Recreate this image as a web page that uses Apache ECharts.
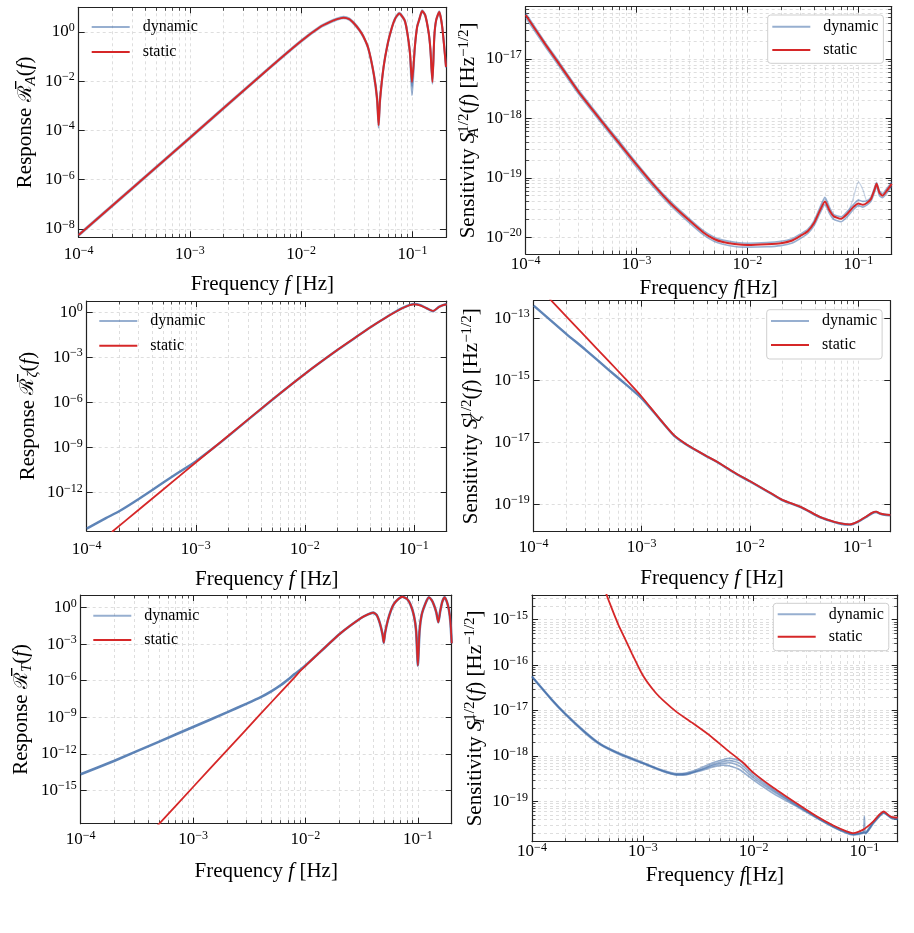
<!DOCTYPE html>
<html>
<head>
<meta charset="utf-8">
<script src="https://cdn.jsdelivr.net/npm/echarts@6/dist/echarts.min.js"></script>
<style>
  html, body { margin: 0; padding: 0; background: #fff; }
  #chart { width: 914px; height: 933px; }
</style>
</head>
<body>
<div id="chart"></div>
<script>
// ---- data (frequency in Hz) ----
// panel 1: response A
const p1Freq = [1e-4, 1e-3, 5e-3, 1e-2, 1.5e-2, 1.8e-2, 2.1e-2, 2.4e-2, 2.7e-2, 3e-2, 3.3e-2, 3.6e-2, 4e-2, 4.5e-2, 4.8e-2, 4.96e-2, 5.1e-2, 5.5e-2, 6e-2, 6.5e-2, 7e-2, 7.6e-2, 8.5e-2, 9e-2, 9.5e-2, 9.9e-2, 1.05e-1, 1.1e-1, 1.15e-1, 1.22e-1, 1.3e-1, 1.4e-1, 1.45e-1, 1.51e-1, 1.57e-1, 1.63e-1, 1.74e-1, 1.85e-1, 2e-1]
const p1Static = [5.6e-9, 5.0e-5, 3.0e-2, 0.43, 1.66, 2.51, 3.3, 3.8, 3.3, 2.14, 1.26, 0.68, 0.22, 1.8e-2, 2.0e-3, 1.6e-4, 1.6e-3, 3.8e-2, 0.35, 1.41, 3.55, 5.6, 2.95, 0.87, 0.13, 9.3e-3, 0.25, 1.58, 3.16, 7.1, 4.8, 0.87, 0.18, 9.3e-3, 0.63, 2.95, 6.5, 1.58, 3.8e-2]
const p1DynA = [5.2e-9, 4.7e-5, 2.8e-2, 0.40, 1.55, 2.34, 3.1, 3.55, 3.1, 2.0, 1.17, 0.63, 0.2, 1.58e-2, 1.58e-3, 1.26e-4, 1.26e-3, 3.5e-2, 0.32, 1.32, 3.3, 5.25, 2.75, 0.79, 0.11, 2.7e-3, 0.22, 1.48, 2.95, 6.6, 4.5, 0.79, 0.16, 7.9e-3, 0.56, 2.75, 6.0, 1.48, 3.5e-2]
const p1DynB = [6.0e-9, 5.4e-5, 3.2e-2, 0.46, 1.78, 2.7, 3.55, 4.1, 3.55, 2.3, 1.35, 0.72, 0.23, 2.0e-2, 2.5e-3, 2.5e-4, 2.0e-3, 4.2e-2, 0.37, 1.51, 3.8, 6.0, 3.16, 0.93, 0.145, 6.3e-3, 0.27, 1.7, 3.4, 7.6, 5.1, 0.93, 0.2, 1.12e-2, 0.69, 3.16, 6.9, 1.7, 4.2e-2]

// panel 2: sensitivity A
const p2Freq = [1e-4, 1.5e-4, 2e-4, 3e-4, 5e-4, 7e-4, 1e-3, 1.5e-3, 2e-3, 3e-3, 4e-3, 5e-3, 6e-3, 8e-3, 1e-2, 1.5e-2, 2e-2, 2.5e-2, 3e-2, 3.5e-2, 4e-2, 4.5e-2, 5e-2, 5.5e-2, 6e-2, 7e-2, 8e-2, 9e-2, 1e-1, 1.1e-1, 1.2e-1, 1.3e-1, 1.4e-1, 1.46e-1, 1.55e-1, 1.65e-1, 1.8e-1, 2e-1]
const p2Static = [5.5e-17, 1.78e-17, 8.3e-18, 2.8e-18, 8.3e-19, 3.8e-19, 1.66e-19, 6.8e-20, 3.8e-20, 1.9e-20, 1.2e-20, 9.3e-21, 8.3e-21, 7.6e-21, 7.4e-21, 7.6e-21, 7.9e-21, 8.7e-21, 1.05e-20, 1.26e-20, 1.74e-20, 2.8e-20, 4.0e-20, 2.8e-20, 2.24e-20, 2.04e-20, 2.5e-20, 3.2e-20, 3.7e-20, 3.5e-20, 3.8e-20, 4.4e-20, 6.3e-20, 7.9e-20, 5.6e-20, 5.0e-20, 6.0e-20, 7.9e-20]
const p2DynA = [5.9e-17, 1.9e-17, 8.9e-18, 3.0e-18, 8.9e-19, 4.1e-19, 1.78e-19, 7.2e-20, 4.1e-20, 2.04e-20, 1.29e-20, 1.0e-20, 8.9e-21, 8.1e-21, 7.9e-21, 8.1e-21, 8.5e-21, 9.3e-21, 1.12e-20, 1.35e-20, 1.9e-20, 3.16e-20, 4.7e-20, 3.16e-20, 2.4e-20, 2.2e-20, 2.75e-20, 3.5e-20, 4.2e-20, 4.0e-20, 4.1e-20, 4.7e-20, 6.8e-20, 8.3e-20, 6.0e-20, 5.4e-20, 6.5e-20, 8.5e-20]
const p2DynB = [5.0e-17, 1.62e-17, 7.6e-18, 2.57e-18, 7.6e-19, 3.5e-19, 1.51e-19, 6.2e-20, 3.5e-20, 1.74e-20, 1.1e-20, 8.5e-21, 7.6e-21, 6.9e-21, 6.8e-21, 6.9e-21, 7.2e-21, 7.9e-21, 9.5e-21, 1.15e-20, 1.58e-20, 2.5e-20, 3.55e-20, 2.5e-20, 2.0e-20, 1.82e-20, 2.24e-20, 2.9e-20, 3.4e-20, 3.2e-20, 3.5e-20, 4.0e-20, 5.75e-20, 7.2e-20, 5.0e-20, 4.6e-20, 5.5e-20, 7.2e-20]
const p2DynC = [5.5e-17, 1.78e-17, 8.3e-18, 2.8e-18, 8.3e-19, 3.8e-19, 1.66e-19, 6.8e-20, 3.8e-20, 1.9e-20, 1.2e-20, 9.3e-21, 8.3e-21, 7.6e-21, 7.4e-21, 7.6e-21, 7.9e-21, 8.7e-21, 1.05e-20, 1.26e-20, 1.74e-20, 2.9e-20, 4.4e-20, 2.9e-20, 2.24e-20, 2.04e-20, 2.5e-20, 4.5e-20, 8.5e-20, 6.3e-20, 4.0e-20, 4.4e-20, 6.3e-20, 7.9e-20, 5.6e-20, 5.0e-20, 6.0e-20, 7.9e-20]

// panel 3: response zeta
const p3FreqS = [1.7e-4, 3e-4, 5e-4, 1e-3, 2e-3, 5e-3, 1e-2, 2e-2, 3e-2, 4e-2, 5e-2, 6.4e-2, 8e-2, 1e-1, 1.15e-1, 1.3e-1, 1.5e-1, 1.7e-1, 1.85e-1, 2e-1]
const p3Static = [2.4e-15, 7.2e-14, 1.55e-12, 1.0e-10, 6.3e-9, 1.48e-6, 7.9e-5, 3.16e-3, 2.4e-2, 0.1, 0.28, 0.83, 2.0, 3.3, 2.8, 1.86, 1.23, 2.24, 2.95, 3.4]
const p3FreqD = [1e-4, 1.5e-4, 2e-4, 3e-4, 5e-4, 7e-4, 1e-3, 1.5e-3, 2e-3, 5e-3, 1e-2, 2e-2, 3e-2, 4e-2, 5e-2, 6.4e-2, 8e-2, 1e-1, 1.15e-1, 1.3e-1, 1.5e-1, 1.7e-1, 1.85e-1, 2e-1]
const p3Dyn = [4.0e-15, 2.0e-14, 6.0e-14, 3.8e-13, 4.5e-12, 2.24e-11, 1.2e-10, 1.12e-9, 6.0e-9, 1.45e-6, 7.8e-5, 3.16e-3, 2.4e-2, 0.1, 0.28, 0.85, 2.04, 3.5, 2.95, 1.9, 1.17, 2.3, 3.0, 3.55]

// panel 4: sensitivity zeta
const p4FreqS = [1.4e-4, 2e-4, 3e-4, 5e-4, 7e-4, 1e-3, 1.5e-3, 2e-3, 2.5e-3, 3e-3, 4e-3, 5e-3, 7e-3, 1e-2, 1.5e-2, 2e-2, 3e-2, 4.4e-2, 5.5e-2, 6.8e-2, 8.4e-2, 1e-1, 1.2e-1, 1.35e-1, 1.48e-1, 1.6e-1, 1.77e-1, 2e-1]
const p4Static = [4.3e-13, 1.15e-13, 2.6e-14, 4.0e-15, 1.15e-15, 2.95e-16, 5.2e-17, 1.66e-17, 9.3e-18, 6.3e-18, 3.55e-18, 2.34e-18, 1.12e-18, 5.6e-19, 2.5e-19, 1.38e-19, 8.1e-20, 4.0e-20, 3.0e-20, 2.45e-20, 2.24e-20, 2.75e-20, 4.0e-20, 5.25e-20, 5.75e-20, 5.1e-20, 4.7e-20, 4.5e-20]
const p4FreqD = [1e-4, 2e-4, 3e-4, 5e-4, 7e-4, 1e-3, 1.5e-3, 2e-3, 2.5e-3, 3e-3, 4e-3, 5e-3, 7e-3, 1e-2, 1.5e-2, 2e-2, 3e-2, 4.4e-2, 5.5e-2, 6.8e-2, 8.4e-2, 1e-1, 1.2e-1, 1.35e-1, 1.48e-1, 1.6e-1, 1.77e-1, 2e-1]
const p4Dyn = [2.57e-13, 3.16e-14, 9.8e-15, 2.1e-15, 7.8e-16, 2.6e-16, 5.1e-17, 1.62e-17, 9.1e-18, 6.2e-18, 3.5e-18, 2.3e-18, 1.1e-18, 5.5e-19, 2.45e-19, 1.35e-19, 7.9e-20, 3.9e-20, 2.95e-20, 2.4e-20, 2.2e-20, 2.7e-20, 3.9e-20, 5.1e-20, 5.6e-20, 5.0e-20, 4.6e-20, 4.4e-20]

// panel 5: response T
const p5FreqS = [4.8e-4, 1e-3, 2e-3, 4e-3, 6e-3, 8e-3, 9e-3, 1e-2, 1.36e-2, 2.05e-2, 3.1e-2, 3.6e-2, 4e-2, 4.3e-2, 4.6e-2, 4.85e-2, 4.97e-2, 5.1e-2, 5.4e-2, 5.8e-2, 6.12e-2, 6.6e-2, 7.27e-2, 8e-2, 8.6e-2, 9.2e-2, 9.65e-2, 1e-1, 1.035e-1, 1.08e-1, 1.17e-1, 1.25e-1, 1.33e-1, 1.39e-1, 1.46e-1, 1.52e-1, 1.58e-1, 1.65e-1, 1.73e-1, 1.81e-1, 1.89e-1, 1.95e-1, 2e-1]
const p5Static = [1.2e-18, 1.86e-15, 1.9e-12, 1.95e-9, 1.12e-7, 1.9e-6, 6.3e-6, 1.66e-5, 2.45e-4, 7.9e-3, 0.135, 0.28, 0.39, 0.25, 5.0e-2, 6.3e-3, 1.35e-3, 7.9e-3, 8.9e-2, 0.71, 2.0, 4.5, 7.9, 5.25, 1.78, 0.25, 1.26e-2, 1.78e-5, 1.26e-2, 0.25, 2.3, 7.1, 4.0, 1.66, 0.4, 6.3e-2, 0.5, 3.1, 7.1, 3.16, 0.65, 6.3e-2, 1.2e-3]
const p5FreqD = [1e-4, 2e-4, 5e-4, 1e-3, 2e-3, 3e-3, 4e-3, 5e-3, 6e-3, 7e-3, 8e-3, 9e-3, 1e-2, 1.36e-2, 2.05e-2, 3.1e-2, 3.6e-2, 4e-2, 4.3e-2, 4.6e-2, 4.85e-2, 4.97e-2, 5.1e-2, 5.4e-2, 5.8e-2, 6.12e-2, 6.6e-2, 7.27e-2, 8e-2, 8.6e-2, 9.2e-2, 9.65e-2, 1e-1, 1.035e-1, 1.08e-1, 1.17e-1, 1.25e-1, 1.33e-1, 1.39e-1, 1.46e-1, 1.52e-1, 1.58e-1, 1.65e-1, 1.73e-1, 1.81e-1, 1.89e-1, 1.95e-1, 2e-1]
const p5Dyn = [2.1e-14, 2.7e-13, 1.0e-11, 1.58e-10, 2.5e-9, 1.32e-8, 4.5e-8, 1.41e-7, 4.2e-7, 1.26e-6, 3.5e-6, 7.9e-6, 1.78e-5, 2.45e-4, 7.9e-3, 0.135, 0.28, 0.39, 0.25, 5.0e-2, 6.3e-3, 1.35e-3, 7.9e-3, 8.9e-2, 0.71, 2.0, 4.5, 7.9, 5.25, 1.78, 0.25, 1.26e-2, 1.78e-5, 1.26e-2, 0.25, 2.3, 7.1, 4.0, 1.66, 0.4, 6.3e-2, 0.5, 3.1, 7.1, 3.16, 0.65, 6.3e-2, 1.2e-3]

// panel 6: sensitivity T
const p6FreqS = [4.6e-4, 5e-4, 6e-4, 7e-4, 8e-4, 1e-3, 1.3e-3, 1.6e-3, 2e-3, 2.76e-3, 4.05e-3, 5.72e-3, 8.07e-3, 9.93e-3, 1.51e-2, 2.62e-2, 3.71e-2, 5.25e-2, 6.92e-2, 7.94e-2, 9.77e-2, 1.2e-1, 1.35e-1, 1.5e-1, 1.65e-1, 1.76e-1, 2e-1]
const p6Static = [4.2e-15, 2.4e-15, 7.9e-16, 3.55e-16, 1.78e-16, 6.0e-17, 2.5e-17, 1.51e-17, 9.5e-18, 5.5e-18, 2.8e-18, 1.38e-18, 7.1e-19, 4.3e-19, 2.0e-19, 8.1e-20, 4.7e-20, 2.95e-20, 2.2e-20, 2.0e-20, 2.4e-20, 3.6e-20, 5.0e-20, 6.0e-20, 5.0e-20, 4.6e-20, 4.4e-20]
const p6FreqD = [1e-4, 1.5e-4, 2e-4, 3e-4, 4.1e-4, 6.2e-4, 1e-3, 1.5e-3, 2e-3, 2.5e-3, 3.3e-3, 4.3e-3, 5.3e-3, 6.1e-3, 7.5e-3, 1e-2, 1.5e-2, 2.6e-2, 3.7e-2, 5.25e-2, 6.9e-2, 8e-2, 9.75e-2, 1e-1, 1.025e-1, 1.2e-1, 1.5e-1, 1.76e-1, 2e-1]
const p6DynA = [5.75e-17, 1.82e-17, 8.7e-18, 3.5e-18, 1.9e-18, 1.15e-18, 7.2e-19, 4.9e-19, 4.1e-19, 4.3e-19, 5.4e-19, 7.1e-19, 8.3e-19, 8.9e-19, 7.9e-19, 4.2e-19, 1.9e-19, 7.9e-20, 4.6e-20, 2.9e-20, 2.14e-20, 1.95e-20, 2.14e-20, 4.7e-20, 2.1e-20, 3.5e-20, 5.9e-20, 4.5e-20, 4.3e-20]
const p6DynB = [5.6e-17, 1.78e-17, 8.5e-18, 3.4e-18, 1.86e-18, 1.12e-18, 7.1e-19, 4.8e-19, 4.0e-19, 4.1e-19, 5.0e-19, 6.5e-19, 7.6e-19, 7.9e-19, 6.9e-19, 3.7e-19, 1.78e-19, 7.6e-20, 4.5e-20, 2.8e-20, 2.1e-20, 1.9e-20, 2.1e-20, 2.14e-20, 2.04e-20, 3.4e-20, 5.75e-20, 4.4e-20, 4.2e-20]
const p6DynC = [5.5e-17, 1.74e-17, 8.3e-18, 3.3e-18, 1.82e-18, 1.1e-18, 6.9e-19, 4.7e-19, 3.9e-19, 4.0e-19, 4.9e-19, 6.2e-19, 6.9e-19, 7.1e-19, 6.0e-19, 3.3e-19, 1.66e-19, 7.4e-20, 4.4e-20, 2.75e-20, 2.04e-20, 1.86e-20, 2.04e-20, 2.1e-20, 2.0e-20, 3.3e-20, 5.6e-20, 4.3e-20, 4.1e-20]
const p6DynD = [5.4e-17, 1.7e-17, 8.1e-18, 3.2e-18, 1.78e-18, 1.07e-18, 6.8e-19, 4.6e-19, 3.8e-19, 3.9e-19, 4.7e-19, 5.75e-19, 6.3e-19, 6.0e-19, 5.0e-19, 2.95e-19, 1.51e-19, 7.1e-20, 4.3e-20, 2.7e-20, 2.0e-20, 1.82e-20, 2.0e-20, 2.04e-20, 1.95e-20, 3.2e-20, 5.5e-20, 4.2e-20, 4.0e-20]

// tick values
const xTicks = [1e-4, 1e-3, 1e-2, 1e-1]
const p1YTicks = [1e-8, 1e-6, 1e-4, 1e-2, 1]
const p2YTicks = [1e-20, 1e-19, 1e-18, 1e-17]
const p3YTicks = [1e-12, 1e-9, 1e-6, 1e-3, 1]
const p4YTicks = [1e-19, 1e-17, 1e-15, 1e-13]
const p5YTicks = [1e-15, 1e-12, 1e-9, 1e-6, 1e-3, 1]
const p6YTicks = [1e-19, 1e-18, 1e-17, 1e-16, 1e-15]

// ---- styling ----
const FONT = 'Liberation Serif'
const RED = '#d62728'
const BLUE = 'rgba(66,110,170,0.55)'
const FRAME = '#222'
const GRIDC = '#d6d6d6'

const respName = sub => '{n|Response }{c|\u211B\u0305}{sub|' + sub + '}{n|(}{i|f}{n|)}'
const sensName = sub => '{n|Sensitivity }{i|S}{sub0|' + sub + '}{sup|1/2}{n|(}{i|f}{n|) [Hz}{sup|\u22121/2}{n|]}'
const freqName = '{n|Frequency }{i|f}{n| [Hz]}'
const freqNameTight = '{n|Frequency }{i|f}{n|[Hz]}'

const panels = [
  { grid: [78.7, 7.3, 367.3, 230], yMin: 4.5e-9, yMax: 10, yTicks: p1YTicks, yMinor: false,
    yName: respName('A'), yGap: 40.5, xName: freqName, xGap: 35, xMargin: 7.5,
    legend: { left: 91.7, top: 19, gap: 9, box: false } },
  { grid: [525.7, 6.7, 366, 247.3], yMin: 5.2e-21, yMax: 7.6e-17, yTicks: p2YTicks, yMinor: true,
    yName: sensName('A'), yGap: 44.5, xName: freqNameTight, xGap: 18.5, xMargin: 1,
    legend: { left: 767.7, top: 15, gap: 7.3, box: true, pad: [3.7, 5, 5.3, 4.6] } },
  { grid: [86.7, 301, 360, 230], yMin: 2.8e-15, yMax: 5.6, yTicks: p3YTicks, yMinor: false,
    yName: respName('\u03B6'), yGap: 46, xName: freqName, xGap: 35.5, xMargin: 8.5,
    legend: { left: 99.3, top: 313, gap: 8.7, box: false } },
  { grid: [533.7, 300.7, 356.6, 231], yMin: 1.3e-20, yMax: 3.7e-13, yTicks: p4YTicks, yMinor: false,
    yName: sensName('\u03B6'), yGap: 49.5, xName: freqName, xGap: 34, xMargin: 6.3,
    legend: { left: 766.7, top: 309.7, gap: 8, box: true, pad: [3.3, 5, 6, 4.3] } },
  { grid: [80.7, 595, 371, 228.7], yMin: 1.8e-18, yMax: 11, yTicks: p5YTicks, yMinor: false,
    yName: respName('T'), yGap: 46.5, xName: freqName, xGap: 34.8, xMargin: 6,
    legend: { left: 93.3, top: 607.7, gap: 8.3, box: false } },
  { grid: [532, 595, 365.7, 246.7], yMin: 1.3e-20, yMax: 3.5e-15, yTicks: p6YTicks, yMinor: true,
    yName: sensName('T'), yGap: 44.5, xName: freqNameTight, xGap: 16.8, xMargin: 0,
    legend: { left: 773.3, top: 603.3, gap: 6.4, box: true, pad: [3, 5, 6, 4.4] } }
]

// minor log ticks 2..9 x 10^n inside a range
function minorTicks(lo, hi) {
  const out = []
  for (let e = Math.floor(Math.log10(lo)); e <= Math.ceil(Math.log10(hi)); e++) {
    for (let m = 2; m <= 9; m++) {
      const v = m * Math.pow(10, e)
      if (v > lo * 1.0001 && v < hi * 0.9999) out.push(v)
    }
  }
  return out
}

function pow10(v) {
  const n = Math.round(Math.log10(v))
  return '10{sup|' + (n < 0 ? '\u2212' + (-n) : String(n)) + '}'
}

const labelStyle = {
  fontFamily: FONT, fontSize: 17, color: '#000', lineHeight: 20,
  rich: { sup: { fontFamily: FONT, fontSize: 12, color: '#000', lineHeight: 11, verticalAlign: 'top' } }
}
const titleStyle = {
  fontFamily: FONT, fontSize: 21, color: '#000', lineHeight: 25,
  rich: {
    n: { fontFamily: FONT, fontSize: 21, color: '#000', lineHeight: 25 },
    i: { fontFamily: FONT, fontSize: 21, color: '#000', lineHeight: 25, fontStyle: 'italic' },
    c: { fontFamily: 'DejaVu Serif', fontSize: 19, color: '#000', lineHeight: 25 },
    sub: { fontFamily: FONT, fontSize: 15, color: '#000', lineHeight: 15, verticalAlign: 'bottom', fontStyle: 'italic' },
    sub0: { fontFamily: FONT, fontSize: 15, color: '#000', lineHeight: 15, verticalAlign: 'bottom', fontStyle: 'italic', width: 0, align: 'left' },
    sup: { fontFamily: FONT, fontSize: 15, color: '#000', lineHeight: 15, verticalAlign: 'top' }
  }
}
const gridLine = { show: true, lineStyle: { color: GRIDC, width: 0.8, type: [3, 3] } }

const xAxes = [], yAxes = [], grids = [], legends = []
panels.forEach((p, i) => {
  grids.push({ left: p.grid[0], top: p.grid[1], width: p.grid[2], height: p.grid[3], outerBoundsMode: 'none', containLabel: false })
  const xMin = minorTicks(1e-4, 0.2)
  const yMin = p.yMinor ? minorTicks(p.yMin, p.yMax) : []
  const xb = { type: 'log', gridIndex: i, min: 1e-4, max: 0.2 }
  const yb = { type: 'log', gridIndex: i, min: p.yMin, max: p.yMax }
  const line = { show: true, onZero: false, lineStyle: { color: FRAME, width: 1.2 } }
  const major = vals => ({ show: true, inside: true, length: 6, customValues: vals, lineStyle: { color: FRAME, width: 1 } })
  const minor = vals => ({ show: vals.length > 0, inside: true, length: 3.5, customValues: vals, lineStyle: { color: FRAME, width: 0.8 } })
  xAxes.push(
    Object.assign({}, xb, { position: 'bottom', axisLine: line, axisTick: major(xTicks),
      axisLabel: Object.assign({ customValues: xTicks, formatter: pow10, margin: p.xMargin }, labelStyle),
      splitLine: Object.assign({ customValues: xTicks }, gridLine),
      name: p.xName, nameLocation: 'middle', nameGap: p.xGap, nameTextStyle: titleStyle }),
    Object.assign({}, xb, { position: 'bottom', axisLine: { show: false }, axisTick: minor(xMin),
      axisLabel: { show: false }, splitLine: Object.assign({ customValues: xMin }, gridLine) }),
    Object.assign({}, xb, { position: 'top', axisLine: line, axisTick: major(xTicks), axisLabel: { show: false }, splitLine: { show: false } }),
    Object.assign({}, xb, { position: 'top', axisLine: { show: false }, axisTick: minor(xMin), axisLabel: { show: false }, splitLine: { show: false } })
  )
  yAxes.push(
    Object.assign({}, yb, { position: 'left', axisLine: line, axisTick: major(p.yTicks),
      axisLabel: Object.assign({ customValues: p.yTicks, formatter: pow10, margin: 4 }, labelStyle),
      splitLine: Object.assign({ customValues: p.yTicks }, gridLine),
      name: p.yName, nameLocation: 'middle', nameGap: p.yGap, nameTextStyle: titleStyle }),
    Object.assign({}, yb, { position: 'left', axisLine: { show: false }, axisTick: minor(yMin),
      axisLabel: { show: false }, splitLine: Object.assign({ customValues: yMin }, gridLine, { show: yMin.length > 0 }) }),
    Object.assign({}, yb, { position: 'right', axisLine: line, axisTick: major(p.yTicks), axisLabel: { show: false }, splitLine: { show: false } }),
    Object.assign({}, yb, { position: 'right', axisLine: { show: false }, axisTick: minor(yMin), axisLabel: { show: false }, splitLine: { show: false } })
  )
  const lg = p.legend
  legends.push({
    data: ['dynamic', 'static'], orient: 'vertical', left: lg.left, top: lg.top,
    icon: 'rect', itemWidth: 38, itemHeight: 2, itemGap: lg.gap, selectedMode: false,
    padding: lg.box ? lg.pad : 0,
    backgroundColor: lg.box ? '#fff' : 'transparent',
    borderColor: lg.box ? '#cfcfcf' : 'transparent', borderWidth: lg.box ? 1 : 0, borderRadius: 3,
    textStyle: { fontFamily: FONT, fontSize: 16, color: '#000', lineHeight: 16, padding: [0, 0, 0, 8] }
  })
})

function series(i, name, f, v, color, width, z) {
  return {
    type: 'line', name, xAxisIndex: 4 * i, yAxisIndex: 4 * i,
    data: f.map((x, k) => [x, v[k]]),
    showSymbol: false, symbol: 'none', smooth: 0.2, z,
    color, itemStyle: { color }, lineStyle: { color, width }
  }
}

const allSeries = [
  series(0, 'dynamic', p1Freq, p1DynA, BLUE, 2, 2),
  series(0, 'dynamic', p1Freq, p1DynB, BLUE, 2, 2),
  series(0, 'static', p1Freq, p1Static, RED, 2, 3),
  series(1, 'dynamic', p2Freq, p2DynA, BLUE, 1.6, 2),
  series(1, 'dynamic', p2Freq, p2DynB, BLUE, 1.6, 2),
  series(1, 'dynamic', p2Freq, p2DynC, 'rgba(66,110,170,0.3)', 1.2, 2),
  series(1, 'static', p2Freq, p2Static, RED, 2, 3),
  series(2, 'dynamic', p3FreqD, p3Dyn, 'rgba(66,110,170,0.85)', 2.4, 2),
  series(2, 'static', p3FreqS, p3Static, RED, 1.8, 3),
  series(3, 'dynamic', p4FreqD, p4Dyn, 'rgba(66,110,170,0.85)', 2.4, 2),
  series(3, 'static', p4FreqS, p4Static, RED, 1.8, 3),
  series(4, 'dynamic', p5FreqD, p5Dyn, 'rgba(66,110,170,0.85)', 2.6, 2),
  series(4, 'static', p5FreqS, p5Static, RED, 1.8, 3),
  series(5, 'dynamic', p6FreqD, p6DynA, BLUE, 1.6, 2),
  series(5, 'dynamic', p6FreqD, p6DynB, BLUE, 1.6, 2),
  series(5, 'dynamic', p6FreqD, p6DynC, BLUE, 1.6, 2),
  series(5, 'dynamic', p6FreqD, p6DynD, BLUE, 1.6, 2),
  series(5, 'static', p6FreqS, p6Static, RED, 1.8, 3)
]

const chart = echarts.init(document.getElementById('chart'), null, { renderer: 'canvas' })
chart.setOption({
  animation: false,
  backgroundColor: '#fff',
  textStyle: { fontFamily: FONT },
  grid: grids,
  xAxis: xAxes,
  yAxis: yAxes,
  legend: legends,
  series: allSeries
})
window.addEventListener('resize', () => chart.resize())
</script>
</body>
</html>
